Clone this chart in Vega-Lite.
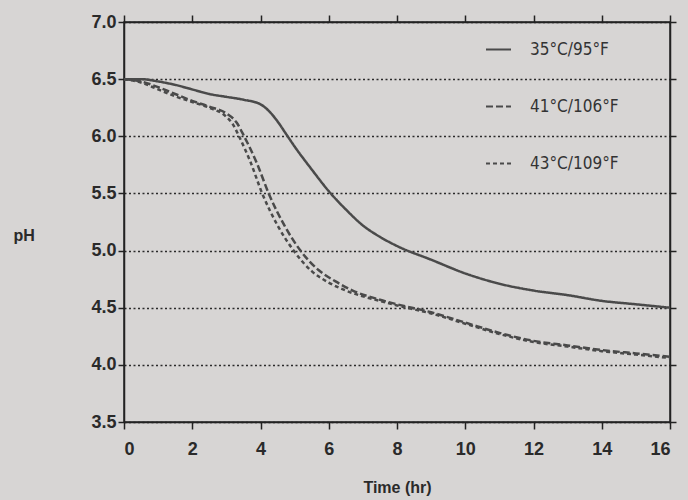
{
  "$schema": "https://vega.github.io/schema/vega-lite/v6.json",
  "width": 546,
  "height": 400,
  "autosize": "none",
  "padding": {"left": 124, "top": 22, "right": 18, "bottom": 78},
  "background": "#d7d5d4",
  "config": {
    "view": {"stroke": "#222", "strokeWidth": 1.5},
    "font": "Liberation Sans"
  },
  "data": {
    "values": [
      {"series": "35°C/95°F", "t": 0, "ph": 6.50},
      {"series": "35°C/95°F", "t": 0.5, "ph": 6.50},
      {"series": "35°C/95°F", "t": 1.0, "ph": 6.48},
      {"series": "35°C/95°F", "t": 1.5, "ph": 6.45},
      {"series": "35°C/95°F", "t": 2.0, "ph": 6.41},
      {"series": "35°C/95°F", "t": 2.5, "ph": 6.37},
      {"series": "35°C/95°F", "t": 3.0, "ph": 6.345},
      {"series": "35°C/95°F", "t": 3.5, "ph": 6.32},
      {"series": "35°C/95°F", "t": 4.0, "ph": 6.28},
      {"series": "35°C/95°F", "t": 4.25, "ph": 6.22},
      {"series": "35°C/95°F", "t": 4.5, "ph": 6.13},
      {"series": "35°C/95°F", "t": 4.75, "ph": 6.02},
      {"series": "35°C/95°F", "t": 5.0, "ph": 5.91},
      {"series": "35°C/95°F", "t": 5.5, "ph": 5.71},
      {"series": "35°C/95°F", "t": 6.0, "ph": 5.52},
      {"series": "35°C/95°F", "t": 6.5, "ph": 5.36},
      {"series": "35°C/95°F", "t": 7.0, "ph": 5.22},
      {"series": "35°C/95°F", "t": 7.5, "ph": 5.12},
      {"series": "35°C/95°F", "t": 8.0, "ph": 5.04},
      {"series": "35°C/95°F", "t": 9.0, "ph": 4.92},
      {"series": "35°C/95°F", "t": 10.0, "ph": 4.80},
      {"series": "35°C/95°F", "t": 11.0, "ph": 4.71},
      {"series": "35°C/95°F", "t": 12.0, "ph": 4.65},
      {"series": "35°C/95°F", "t": 13.0, "ph": 4.61},
      {"series": "35°C/95°F", "t": 14.0, "ph": 4.56},
      {"series": "35°C/95°F", "t": 15.0, "ph": 4.53},
      {"series": "35°C/95°F", "t": 16.0, "ph": 4.50},

      {"series": "41°C/106°F", "t": 0, "ph": 6.50},
      {"series": "41°C/106°F", "t": 0.5, "ph": 6.48},
      {"series": "41°C/106°F", "t": 1.0, "ph": 6.43},
      {"series": "41°C/106°F", "t": 1.5, "ph": 6.37},
      {"series": "41°C/106°F", "t": 2.0, "ph": 6.31},
      {"series": "41°C/106°F", "t": 2.5, "ph": 6.26},
      {"series": "41°C/106°F", "t": 3.0, "ph": 6.20},
      {"series": "41°C/106°F", "t": 3.3, "ph": 6.12},
      {"series": "41°C/106°F", "t": 3.52, "ph": 6.00},
      {"series": "41°C/106°F", "t": 3.9, "ph": 5.76},
      {"series": "41°C/106°F", "t": 4.24, "ph": 5.50},
      {"series": "41°C/106°F", "t": 4.7, "ph": 5.22},
      {"series": "41°C/106°F", "t": 5.17, "ph": 5.00},
      {"series": "41°C/106°F", "t": 5.7, "ph": 4.83},
      {"series": "41°C/106°F", "t": 6.2, "ph": 4.73},
      {"series": "41°C/106°F", "t": 6.7, "ph": 4.65},
      {"series": "41°C/106°F", "t": 7.5, "ph": 4.57},
      {"series": "41°C/106°F", "t": 8.0, "ph": 4.53},
      {"series": "41°C/106°F", "t": 9.0, "ph": 4.46},
      {"series": "41°C/106°F", "t": 10.0, "ph": 4.37},
      {"series": "41°C/106°F", "t": 11.0, "ph": 4.28},
      {"series": "41°C/106°F", "t": 12.0, "ph": 4.21},
      {"series": "41°C/106°F", "t": 13.0, "ph": 4.17},
      {"series": "41°C/106°F", "t": 14.0, "ph": 4.13},
      {"series": "41°C/106°F", "t": 15.0, "ph": 4.10},
      {"series": "41°C/106°F", "t": 16.0, "ph": 4.07},

      {"series": "43°C/109°F", "t": 0, "ph": 6.50},
      {"series": "43°C/109°F", "t": 0.5, "ph": 6.47},
      {"series": "43°C/109°F", "t": 1.0, "ph": 6.41},
      {"series": "43°C/109°F", "t": 1.5, "ph": 6.35},
      {"series": "43°C/109°F", "t": 2.0, "ph": 6.30},
      {"series": "43°C/109°F", "t": 2.5, "ph": 6.25},
      {"series": "43°C/109°F", "t": 3.0, "ph": 6.17},
      {"series": "43°C/109°F", "t": 3.2, "ph": 6.10},
      {"series": "43°C/109°F", "t": 3.37, "ph": 6.00},
      {"series": "43°C/109°F", "t": 3.7, "ph": 5.78},
      {"series": "43°C/109°F", "t": 4.05, "ph": 5.50},
      {"series": "43°C/109°F", "t": 4.5, "ph": 5.22},
      {"series": "43°C/109°F", "t": 4.97, "ph": 5.00},
      {"series": "43°C/109°F", "t": 5.5, "ph": 4.82},
      {"series": "43°C/109°F", "t": 6.0, "ph": 4.72},
      {"series": "43°C/109°F", "t": 6.5, "ph": 4.65},
      {"series": "43°C/109°F", "t": 7.0, "ph": 4.60},
      {"series": "43°C/109°F", "t": 7.5, "ph": 4.56},
      {"series": "43°C/109°F", "t": 8.0, "ph": 4.52},
      {"series": "43°C/109°F", "t": 9.0, "ph": 4.45},
      {"series": "43°C/109°F", "t": 10.0, "ph": 4.36},
      {"series": "43°C/109°F", "t": 11.0, "ph": 4.27},
      {"series": "43°C/109°F", "t": 12.0, "ph": 4.20},
      {"series": "43°C/109°F", "t": 13.0, "ph": 4.16},
      {"series": "43°C/109°F", "t": 14.0, "ph": 4.12},
      {"series": "43°C/109°F", "t": 15.0, "ph": 4.09},
      {"series": "43°C/109°F", "t": 16.0, "ph": 4.06}
    ]
  },
  "resolve": {"axis": {"x": "independent", "y": "independent"}},
  "layer": [
    {
      "mark": {"type": "line", "color": "#4a4a4a", "strokeWidth": 2.5, "interpolate": "monotone"},
      "encoding": {
        "x": {
          "field": "t", "type": "quantitative",
          "scale": {"domain": [0, 16], "nice": false},
          "axis": {
            "title": "Time (hr)", "values": [0, 2, 4, 6, 8, 10, 12, 14, 16],
            "grid": false, "domainColor": "#222", "domainWidth": 1.5,
            "tickColor": "#222", "tickWidth": 1.5, "tickSize": 7,
            "labelFont": "Liberation Sans", "labelFontWeight": "bold", "labelFontSize": 18,
            "labelColor": "#2a2a2a", "labelPadding": 11,
            "titleFont": "Liberation Sans", "titleFontWeight": "bold", "titleFontSize": 16,
            "titleColor": "#2a2a2a", "titleBaseline": "middle", "titleY": 65
          }
        },
        "y": {
          "field": "ph", "type": "quantitative",
          "scale": {"domain": [3.5, 7.0], "nice": false, "zero": false},
          "axis": {
            "title": "pH", "values": [3.5, 4.0, 4.5, 5.0, 5.5, 6.0, 6.5, 7.0], "format": ".1f",
            "grid": true, "gridColor": "#2a2a2a", "gridDash": [2, 2.5], "gridWidth": 1.5,
            "domainColor": "#222", "domainWidth": 1.5,
            "tickColor": "#222", "tickWidth": 1.5, "tickSize": 6,
            "labelFont": "Liberation Sans", "labelFontWeight": "bold", "labelFontSize": 18,
            "labelColor": "#2a2a2a", "labelPadding": 2,
            "titleFont": "Liberation Sans", "titleFontWeight": "bold", "titleFontSize": 16,
            "titleColor": "#2a2a2a", "titleAngle": 0, "titleAlign": "left",
            "titleBaseline": "middle", "titleX": -111, "titleY": 213
          }
        },
        "strokeDash": {
          "field": "series", "type": "nominal",
          "scale": {
            "domain": ["35°C/95°F", "41°C/106°F", "43°C/109°F"],
            "range": [[1, 0], [7, 3], [4, 3]]
          },
          "legend": {
            "title": null, "orient": "none", "legendX": 361, "legendY": 14,
            "symbolType": "stroke", "symbolSize": 625, "symbolStrokeWidth": 2,
            "symbolStrokeColor": "#4a4a4a", "rowPadding": 35, "labelOffset": 18,
            "labelFont": "DejaVu Sans Condensed", "labelFontSize": 17,
            "labelColor": "#333", "labelLimit": 200
          }
        }
      }
    },
    {
      "mark": {"type": "line", "opacity": 0},
      "encoding": {
        "x": {
          "field": "t", "type": "quantitative",
          "axis": {
            "orient": "top", "title": null, "labels": false, "grid": false,
            "values": [0, 2, 4, 6, 8, 10, 12, 14, 16],
            "domainColor": "#222", "domainWidth": 1.5,
            "tickColor": "#222", "tickWidth": 1.5, "tickSize": 7
          }
        },
        "y": {
          "field": "ph", "type": "quantitative",
          "axis": {
            "orient": "right", "title": null, "labels": false, "grid": false,
            "values": [3.5, 4.0, 4.5, 5.0, 5.5, 6.0, 6.5, 7.0],
            "domainColor": "#222", "domainWidth": 1.5,
            "tickColor": "#222", "tickWidth": 1.5, "tickSize": 6
          }
        },
        "detail": {"field": "series", "type": "nominal"}
      }
    }
  ]
}
